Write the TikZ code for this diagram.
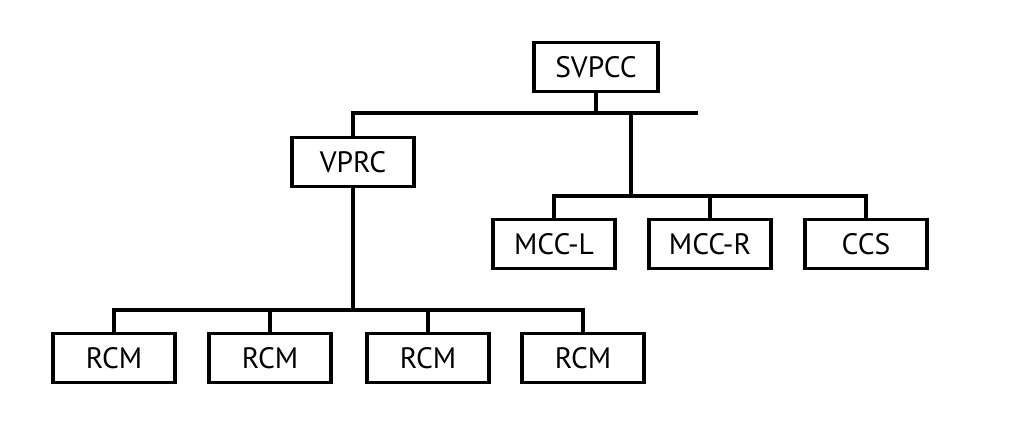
\documentclass[tikz,border=0pt]{standalone}
\usepackage{fontspec}
\setmainfont{PT Sans}
\usetikzlibrary{positioning}
\tikzset{unit/.style = {draw, line width = 2.6pt, minimum width = 3.05cm, minimum height = 1.23cm, inner sep = 0, font = \fontsize{21}{24}\selectfont}}
\tikzset{wire/.style = {line width = 2.6pt}}

\begin{document}
\begin{tikzpicture}
    \useasboundingbox (0, 0) rectangle (25.6, 10.5);

    \node [unit, minimum width = 3.1cm] (svpcc) at (14.9, 8.825) {SVPCC};
    \node [unit] (vprc) at (8.825, 6.45) {VPRC};

    \node [unit] (mccl) at (13.85, 4.4) {MCC-L};
    \node [unit] (mccr) at (17.75, 4.4) {MCC-R};
    \node [unit] (ccs) at (21.65, 4.4) {CCS};

    \node [unit] (rcma) at (2.85, 1.55) {RCM};
    \node [unit] (rcmb) at (6.75, 1.55) {RCM};
    \node [unit] (rcmc) at (10.7, 1.55) {RCM};
    \node [unit] (rcmd) at (14.575, 1.55) {RCM};

    \coordinate (topbus) at (17.45, 7.675);
    \coordinate (tophub) at (15.775, 7.675);
    \coordinate (midbus) at (15.775, 5.6);
    \coordinate (lowbus) at (8.825, 2.75);

    \draw [wire] (svpcc) -- (svpcc |- topbus);
    \draw [wire] (vprc) |- (topbus);
    \draw [wire] (tophub) -- (midbus);
    \draw [wire] (mccl) |- (midbus) -| (ccs);
    \draw [wire] (mccr) -- (mccr |- midbus);

    \draw [wire] (vprc) -- (lowbus);
    \draw [wire] (rcma) |- (lowbus) -| (rcmd);
    \draw [wire] (rcmb) -- (rcmb |- lowbus);
    \draw [wire] (rcmc) -- (rcmc |- lowbus);
  \end{tikzpicture}
\end{document}
